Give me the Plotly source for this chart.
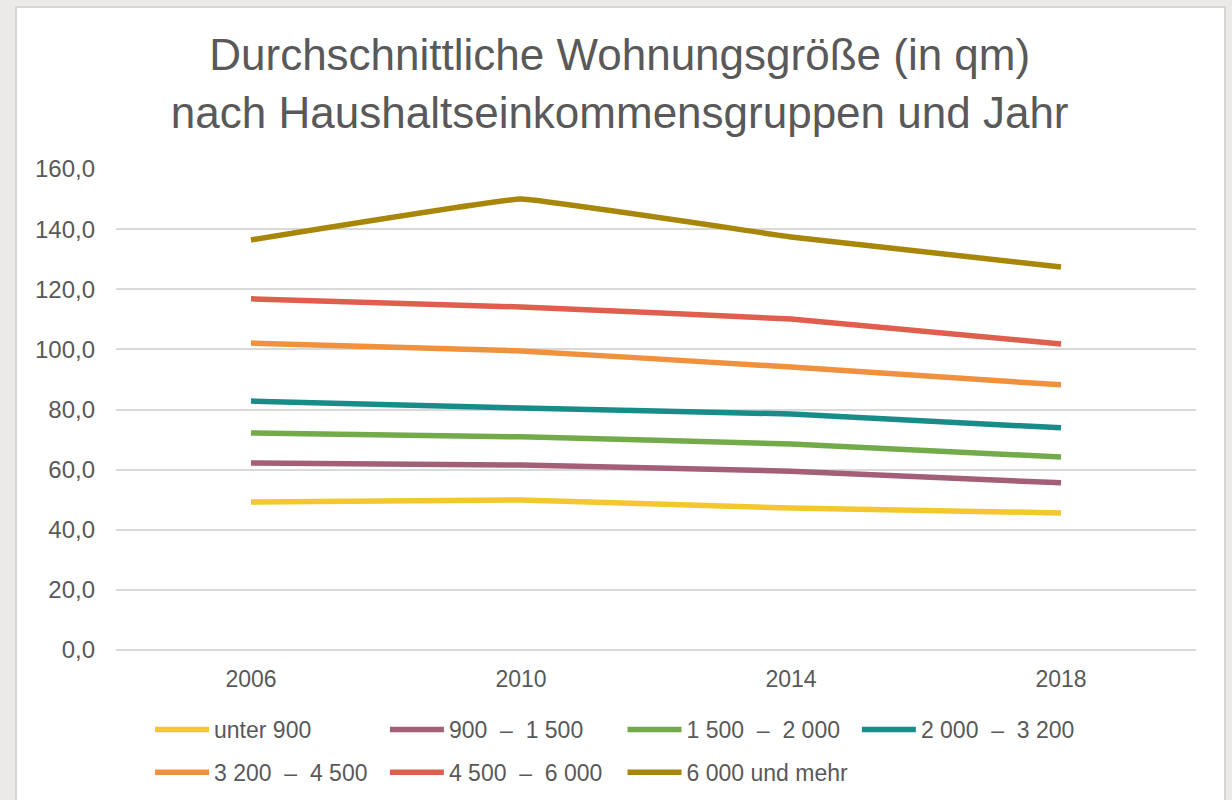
import plotly.graph_objects as go

years = ["2006", "2010", "2014", "2018"]
series_names = ["unter 900", "900  –  1 500", "1 500  –  2 000", "2 000  –  3 200",
                "3 200  –  4 500", "4 500  –  6 000", "6 000 und mehr"]
unter_900 = [49.2, 49.9, 47.2, 45.6]
s_900_1500 = [62.2, 61.5, 59.5, 55.6]
s_1500_2000 = [72.2, 70.9, 68.5, 64.2]
s_2000_3200 = [82.8, 80.5, 78.5, 73.9]
s_3200_4500 = [102.1, 99.5, 94.1, 88.2]
s_4500_6000 = [116.8, 114.1, 110.1, 101.8]
s_6000_plus = [136.4, 150.0, 137.4, 127.4]
values = [unter_900, s_900_1500, s_1500_2000, s_2000_3200, s_3200_4500, s_4500_6000, s_6000_plus]
colors = ["#F5C72E", "#A35E78", "#73AB4A", "#178C89", "#F0913D", "#E05E4E", "#A8860A"]
legend_ids = ["legend", "legend2", "legend3", "legend4", "legend", "legend2", "legend3"]

FONT = "Liberation Sans"
TXT = "#595959"

fig = go.Figure()
for name, vals, col, lg in zip(series_names, values, colors, legend_ids):
    fig.add_trace(go.Scatter(
        x=years, y=vals, name=name, mode="lines",
        line=dict(color=col, width=5.5, shape="spline", smoothing=0.2),
        legend=lg, legendgroup=name,
    ))

def leg(x):
    return dict(x=x, y=1 - 708 / 800, xref="paper", yref="container", xanchor="left", yanchor="top",
                orientation="v", font=dict(family=FONT, size=23, color=TXT),
                bgcolor="rgba(0,0,0,0)", tracegroupgap=10, itemwidth=54)

fig.update_layout(
    width=1232, height=800,
    margin=dict(l=116, r=36, t=169, b=150, autoexpand=False),
    paper_bgcolor="#EBEAE8",
    plot_bgcolor="rgba(0,0,0,0)",
    separators=", ",
    title=dict(
        text="Durchschnittliche Wohnungsgröße (in qm)<br>nach Haushaltseinkommensgruppen und Jahr",
        x=0.503, xanchor="center", xref="container", y=0.912, yanchor="top", yref="container",
        font=dict(family=FONT, size=44, color=TXT),
    ),
    xaxis=dict(type="category", range=[-0.5, 3.5], showgrid=False, zeroline=False,
               showline=False, ticks="", ticklabelstandoff=13,
               tickfont=dict(family=FONT, size=23, color=TXT)),
    yaxis=dict(range=[0, 160], dtick=20, tickformat=".1f", showgrid=True,
               gridcolor="#D9D9D9", gridwidth=1.5, zeroline=True, zerolinecolor="#D9D9D9",
               zerolinewidth=1.5, showline=False, ticks="", ticklabelstandoff=20,
               tickfont=dict(family=FONT, size=24, color=TXT)),
    legend=leg(0.0315),
    legend2=leg(0.249),
    legend3=leg(0.469),
    legend4=leg(0.686),
    shapes=[dict(type="rect", xref="paper", yref="paper", layer="below",
                 x0=(16 - 116) / 1080, x1=(1225 - 116) / 1080,
                 y0=(650 - 820) / 481, y1=(650 - 7) / 481,
                 fillcolor="white", line=dict(color="#D6D6D6", width=2))],
    showlegend=True,
)

fig.write_html(
    "out.html",
    config={"displayModeBar": False},
    post_script="document.body.style.margin='0';document.body.style.overflow='hidden';",
)
